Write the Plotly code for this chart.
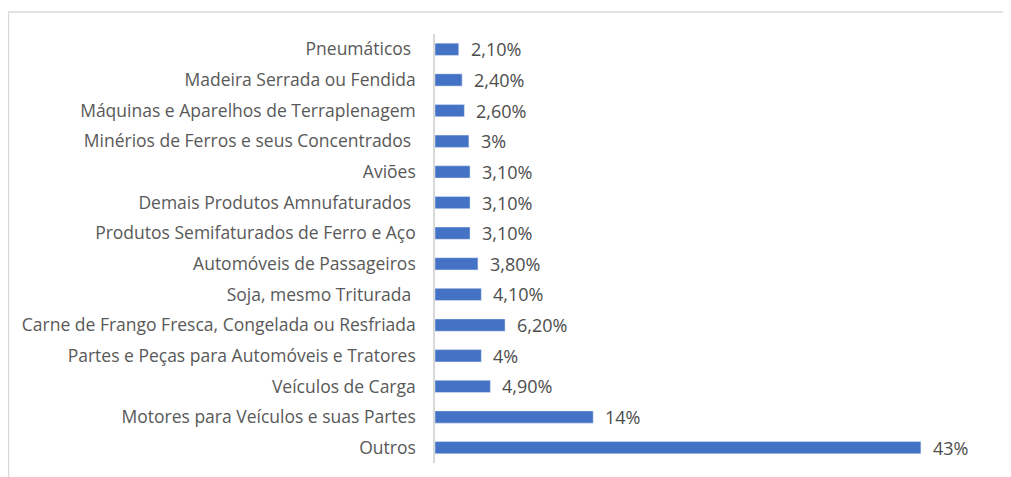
import plotly.graph_objects as go

categories = [
    "Pneumáticos ",
    "Madeira Serrada ou Fendida",
    "Máquinas e Aparelhos de Terraplenagem",
    "Minérios de Ferros e seus Concentrados ",
    "Aviões",
    "Demais Produtos Amnufaturados ",
    "Produtos Semifaturados de Ferro e Aço",
    "Automóveis de Passageiros",
    "Soja, mesmo Triturada ",
    "Carne de Frango Fresca, Congelada ou Resfriada",
    "Partes e Peças para Automóveis e Tratores",
    "Veículos de Carga",
    "Motores para Veículos e suas Partes",
    "Outros",
]
values = [2.1, 2.4, 2.6, 3.0, 3.1, 3.1, 3.1, 3.8, 4.1, 6.2, 4.1, 4.9, 14, 43]
labels = ["2,10%", "2,40%", "2,60%", "3%", "3,10%", "3,10%", "3,10%", "3,80%",
          "4,10%", "6,20%", "4%", "4,90%", "14%", "43%"]

# page is offset by the 8px default body margin
OFF = 8
W, H = 1011 - OFF, 477 - OFF
L, R, T, B = 435 - OFF, 11, 34 - OFF, 14
PW, PH = W - L - R, H - T - B

fig = go.Figure(go.Bar(
    x=values, y=categories, orientation="h",
    marker=dict(color="#4472C4"), width=0.4,
    hoverinfo="skip",
))

for v, c, t in zip(values, categories, labels):
    fig.add_annotation(x=v, y=c, text=t, xanchor="left", showarrow=False,
                       xshift=10, font=dict(family="Open Sans", size=18, color="#4d4d4d"))

def px(x):
    return (x - OFF - L) / PW

def py(y):
    return (H - B - (y - OFF)) / PH

border = "#d9d9d9"
fig.add_shape(type="line", xref="paper", yref="paper", x0=px(8), x1=px(1020),
              y0=py(12), y1=py(12), line=dict(color=border, width=1.5))
fig.add_shape(type="line", xref="paper", yref="paper", x0=px(8.5), x1=px(8.5),
              y0=py(12), y1=py(490), line=dict(color=border, width=1.5))

fig.update_layout(
    width=W, height=H,
    margin=dict(l=L, r=R, t=T, b=B),
    paper_bgcolor="white", plot_bgcolor="white",
    showlegend=False,
    xaxis=dict(visible=False, range=[0, PW / 11.3]),
    yaxis=dict(autorange="reversed", showline=True, linecolor=border, linewidth=1.5,
               showgrid=False, ticks="", ticklabelstandoff=14,
               tickfont=dict(family="Open Sans", size=17.5, color="#595959")),
    font=dict(family="Open Sans"),
)

fig.write_html("out.html")
